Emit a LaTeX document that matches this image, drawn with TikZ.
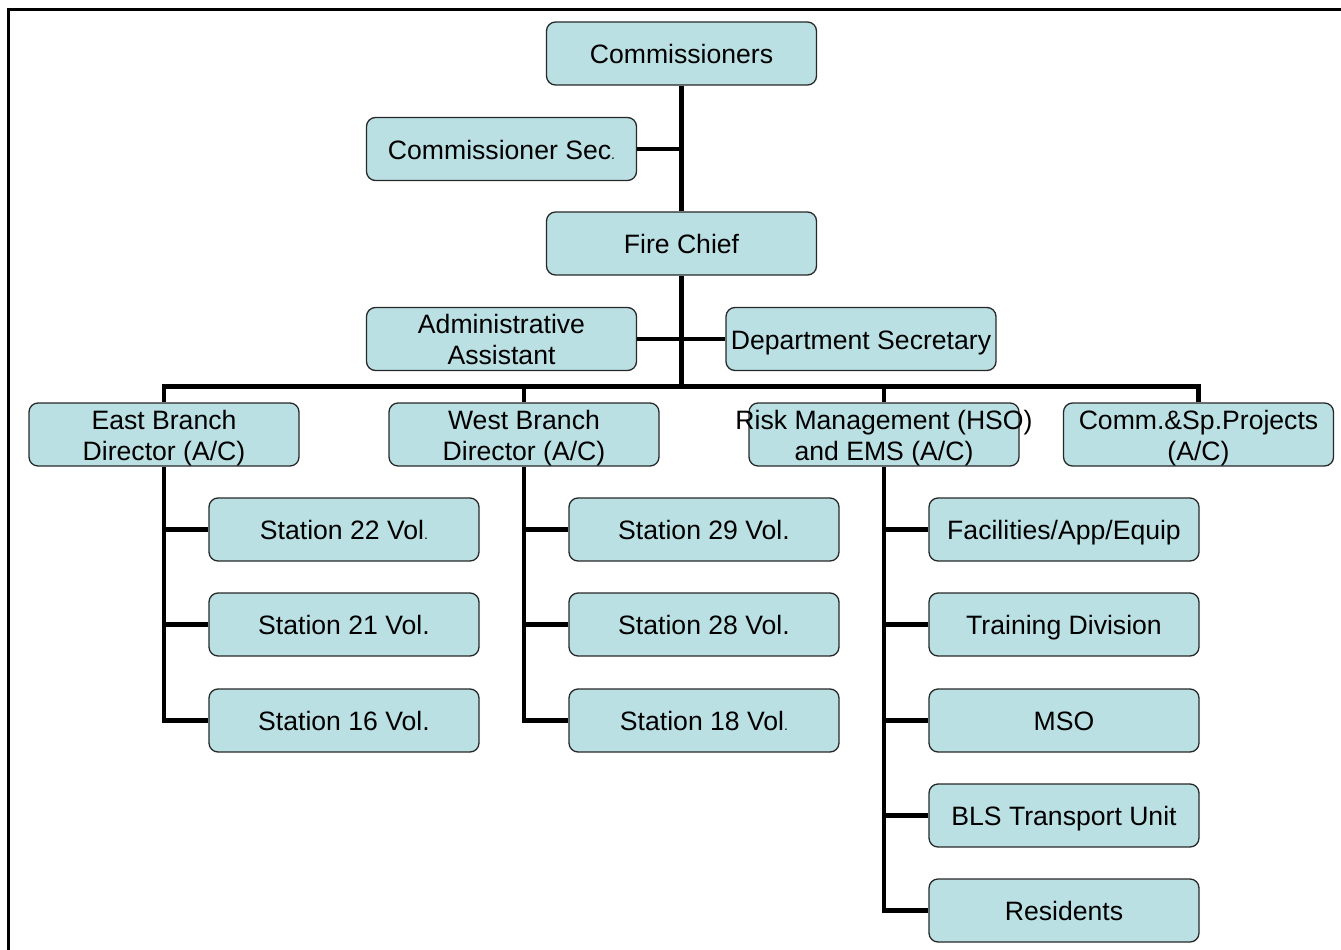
\documentclass[tikz,border=0pt]{standalone}
\usepackage{fontspec}
\setmainfont{Liberation Sans}
\usetikzlibrary{backgrounds}
\definecolor{boxfill}{RGB}{186,224,227}
\definecolor{boxline}{RGB}{40,40,40}
\newcommand{\bt}[1]{\raisebox{0pt}[\dimexpr\height+4pt][\dimexpr\depth-4pt]{\makebox[0pt][c]{\begin{tabular}{@{}c@{}}#1\end{tabular}}}}
\newcommand{\sdot}{{\fontsize{14}{14}\selectfont .}}
\begin{document}
\begin{tikzpicture}[x=1pt,y=-1pt,
  box/.style={draw=boxline, line width=1.3pt, rounded corners=9pt, fill=boxfill,
    minimum width=270pt, minimum height=63pt, inner sep=0pt,
    font=\fontsize{26.6}{31}\selectfont},
  conn/.style={line width=4.6pt}]
\useasboundingbox (0,0) rectangle (1341,950);
\draw[line width=3pt] (8,952) -- (8,10) -- (1343,10);

\node[box] (comm)  at (681.5,53.5)  {\bt{Commissioners}};
\node[box] (csec)  at (501.5,149)   {\bt{Commissioner Sec\sdot}};
\node[box] (chief) at (681.5,243.5) {\bt{Fire Chief}};
\node[box] (admin) at (501.5,339)   {\bt{Administrative\\Assistant}};
\node[box] (dsec)  at (861,339)     {\bt{Department Secretary}};
\node[box] (east)  at (164,434.5)   {\bt{East Branch\\Director (A/C)}};
\node[box] (west)  at (524,434.5)   {\bt{West Branch\\Director (A/C)}};
\node[box] (risk)  at (884,434.5)   {\bt{Risk Management (HSO)\\and EMS (A/C)}};
\node[box] (proj)  at (1198.5,434.5){\bt{Comm.\&Sp.Projects\\(A/C)}};
\node[box] (s22) at (344,529.5) {\bt{Station 22 Vol\sdot}};
\node[box] (s21) at (344,624.5) {\bt{Station 21 Vol.}};
\node[box] (s16) at (344,720.5) {\bt{Station 16 Vol.}};
\node[box] (s29) at (704,529.5) {\bt{Station 29 Vol.}};
\node[box] (s28) at (704,624.5) {\bt{Station 28 Vol.}};
\node[box] (s18) at (704,720.5) {\bt{Station 18 Vol\sdot}};
\node[box] (fac)   at (1064,529.5) {\bt{Facilities/App/Equip}};
\node[box] (train) at (1064,624.5) {\bt{Training Division}};
\node[box] (mso)   at (1064,720.5) {\bt{MSO}};
\node[box] (bls)   at (1064,815.5) {\bt{BLS Transport Unit}};
\node[box] (res)   at (1064,910.5) {\bt{Residents}};

\coordinate (bus) at (681.5,386.5);
\begin{scope}[on background layer]
\draw[conn] (comm.south) -- (chief.north);
\draw[conn] (chief.south) -- (bus);
\draw[conn] (csec.east) -- (csec.east -| comm.south);
\draw[conn] (admin.east) -- (dsec.west);
\draw[conn] (east.north) |- (bus) -| (proj.north);
\draw[conn] (west.north) -- (west.north |- bus);
\draw[conn] (risk.north) -- (risk.north |- bus);
\draw[conn] (east.south) |- (s16.west);
\draw[conn] (s22.west) -- (s22.west -| east.south);
\draw[conn] (s21.west) -- (s21.west -| east.south);
\draw[conn] (west.south) |- (s18.west);
\draw[conn] (s29.west) -- (s29.west -| west.south);
\draw[conn] (s28.west) -- (s28.west -| west.south);
\draw[conn] (risk.south) |- (res.west);
\draw[conn] (fac.west) -- (fac.west -| risk.south);
\draw[conn] (train.west) -- (train.west -| risk.south);
\draw[conn] (mso.west) -- (mso.west -| risk.south);
\draw[conn] (bls.west) -- (bls.west -| risk.south);
\end{scope}
\end{tikzpicture}
\end{document}
